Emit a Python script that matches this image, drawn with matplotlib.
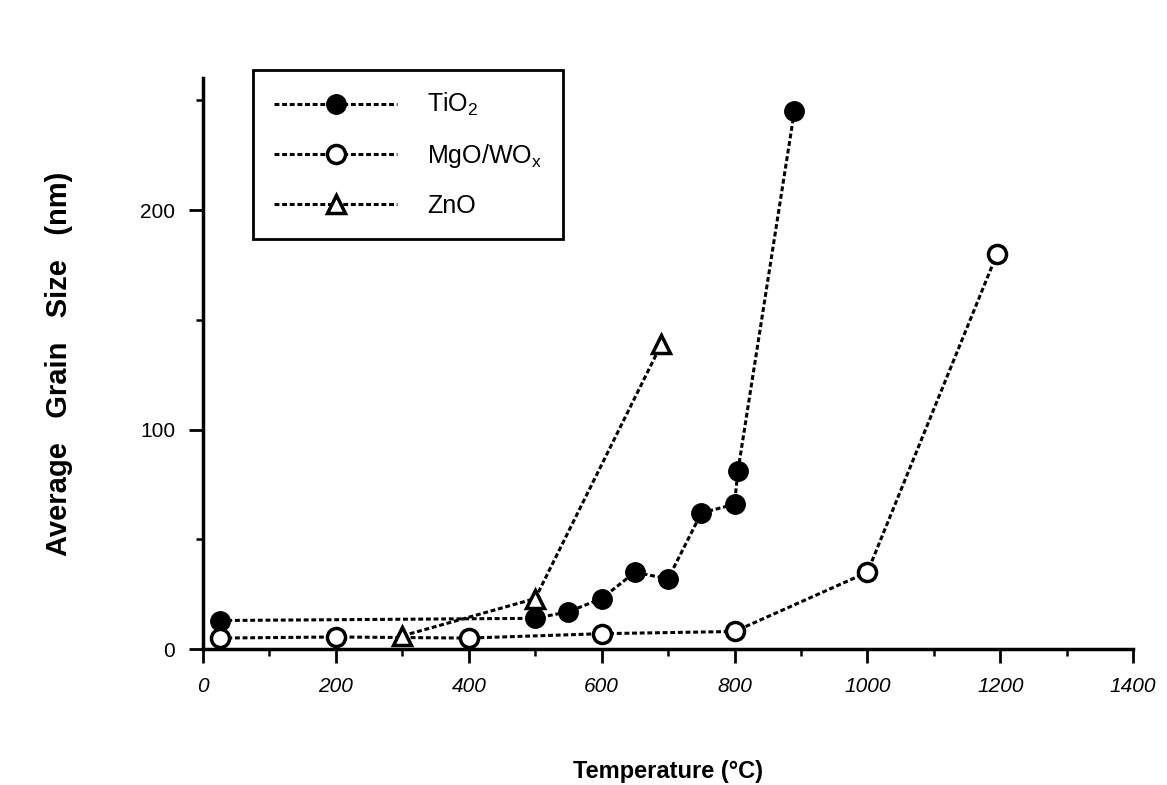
import matplotlib.pyplot as plt
from matplotlib.ticker import MultipleLocator

plt.rcParams['font.family'] = ['Liberation Sans', 'DejaVu Sans']
plt.rcParams['mathtext.fontset'] = 'custom'
plt.rcParams['mathtext.rm'] = 'Liberation Sans'
plt.rcParams['mathtext.it'] = 'Liberation Sans:italic'

# values
tio2_T = [25, 500, 550, 600, 650, 700, 750, 800, 805, 890]
tio2_size = [13, 14, 17, 23, 35, 32, 62, 66, 81, 245]

mgo_T = [25, 200, 400, 600, 800, 1000, 1195]
mgo_size = [5, 5.5, 5, 7, 8, 35, 180]

zno_T = [300, 500, 690]
zno_size = [6, 23, 139]

fig = plt.figure(figsize=(11.67, 7.85), dpi=100)
ax = fig.add_axes([0.174, 0.1732, 0.797, 0.7268])

dots = (0, (1.6, 0.9))
ax.plot(tio2_T, tio2_size, linestyle=dots, color='black', lw=2.2,
        marker='o', markersize=14, markerfacecolor='black',
        markeredgecolor='black', label='TiO$_2$')
ax.plot(mgo_T, mgo_size, linestyle=dots, color='black', lw=2.2,
        marker='o', markersize=13, markerfacecolor='white',
        markeredgecolor='black', markeredgewidth=2.5, label=r'MgO/WO$_\mathrm{x}$')
ax.plot(zno_T, zno_size, linestyle=dots, color='black', lw=2.2,
        marker='^', markersize=13, markerfacecolor='white',
        markeredgecolor='black', markeredgewidth=2.5, label='ZnO')

ax.set_xlim(0, 1400)
ax.set_ylim(0, 260)
ax.xaxis.set_major_locator(MultipleLocator(200))
ax.xaxis.set_minor_locator(MultipleLocator(100))
ax.yaxis.set_major_locator(MultipleLocator(100))
ax.yaxis.set_minor_locator(MultipleLocator(50))

for s in ['top', 'right']:
    ax.spines[s].set_visible(False)
for s in ['left', 'bottom']:
    ax.spines[s].set_linewidth(2.5)

ax.tick_params(axis='both', which='major', direction='out', length=10,
               width=2, labelsize=15)
ax.tick_params(axis='both', which='minor', direction='out', length=5, width=1.8)
ax.tick_params(axis='x', pad=10)
ax.tick_params(axis='y', pad=10)
for lbl in ax.get_xticklabels():
    lbl.set_style('italic')

ax.set_xlabel('Temperature (°C)', fontsize=17, fontweight='bold', labelpad=46)
ax.set_ylabel('Average   Grain   Size   (nm)', fontsize=21, fontweight='bold',
              labelpad=48)

leg = ax.legend(loc='upper left', bbox_to_anchor=(0.2168, 0.9108),
                bbox_transform=fig.transFigure, borderaxespad=0,
                fontsize=18, frameon=True,
                fancybox=False, edgecolor='black', framealpha=1,
                handlelength=4.9, handletextpad=1.2, labelspacing=0.95,
                borderpad=0.85, numpoints=1)
leg.get_frame().set_linewidth(2)

fig.savefig('out.png', dpi=100)
